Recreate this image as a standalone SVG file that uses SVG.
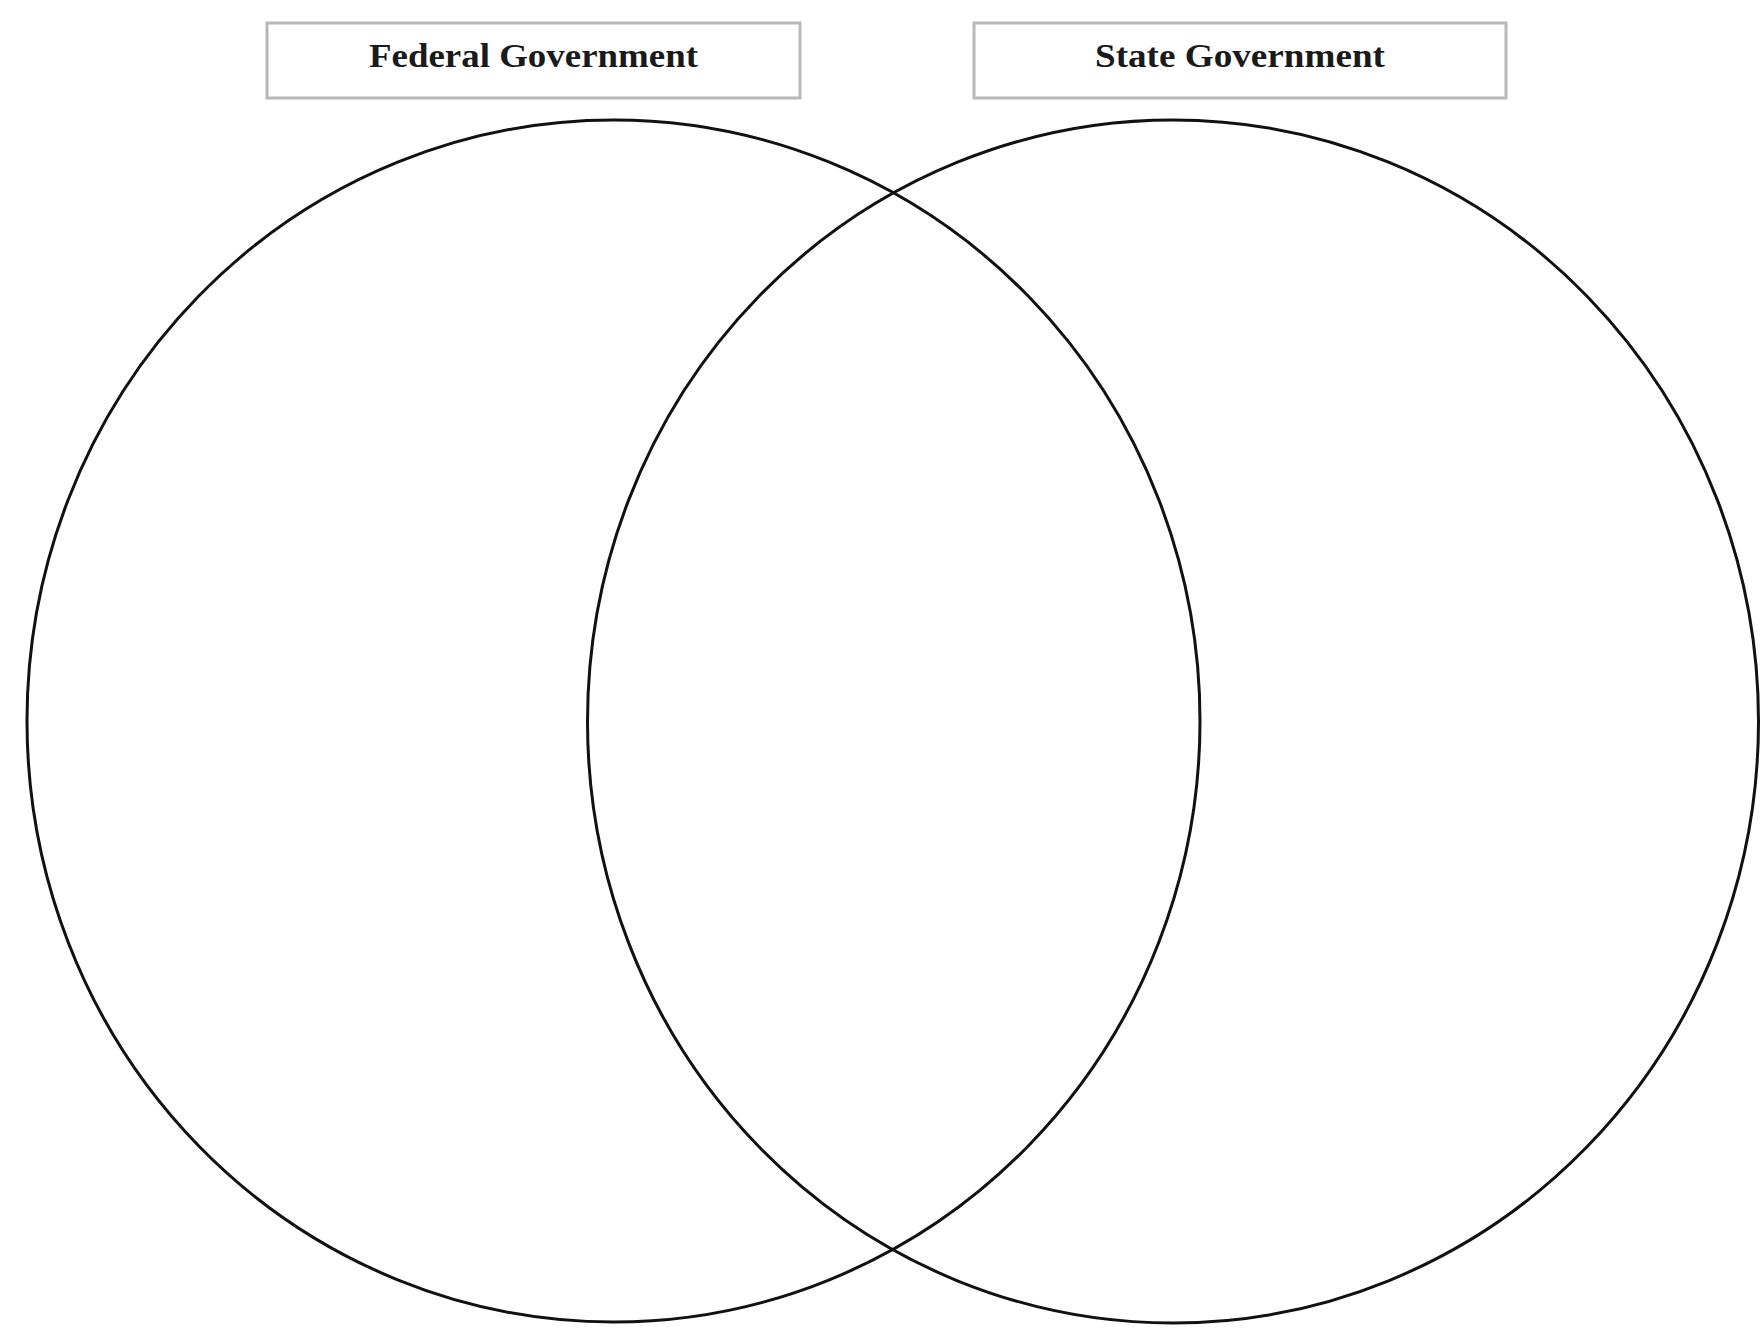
<svg xmlns="http://www.w3.org/2000/svg" width="1761" height="1329" viewBox="0 0 1761 1329">
<style>
.lbl{fill:#fff;stroke:#b8b8b8;stroke-width:3}
.t{font-family:"Liberation Serif","Times New Roman",serif;font-weight:bold;font-size:34px;fill:#1a1a1a;text-anchor:middle}
.c{fill:none;stroke:#111;stroke-width:3}
</style>
<rect width="1761" height="1329" fill="#fff"/>
<g id="federal-label">
<rect class="lbl" x="267" y="23" width="533" height="75"/>
<text class="t" x="533.5" y="67" textLength="329" lengthAdjust="spacingAndGlyphs">Federal Government</text>
</g>
<g id="state-label">
<rect class="lbl" x="974" y="23" width="532" height="75"/>
<text class="t" x="1240" y="67" textLength="290" lengthAdjust="spacingAndGlyphs">State Government</text>
</g>
<g id="federal-circle">
<ellipse class="c" cx="613.5" cy="721" rx="586.5" ry="601"/>
</g>
<g id="state-circle">
<ellipse class="c" cx="1173" cy="721.5" rx="585.5" ry="601.5"/>
</g>
<g id="connectors"></g>
</svg>
